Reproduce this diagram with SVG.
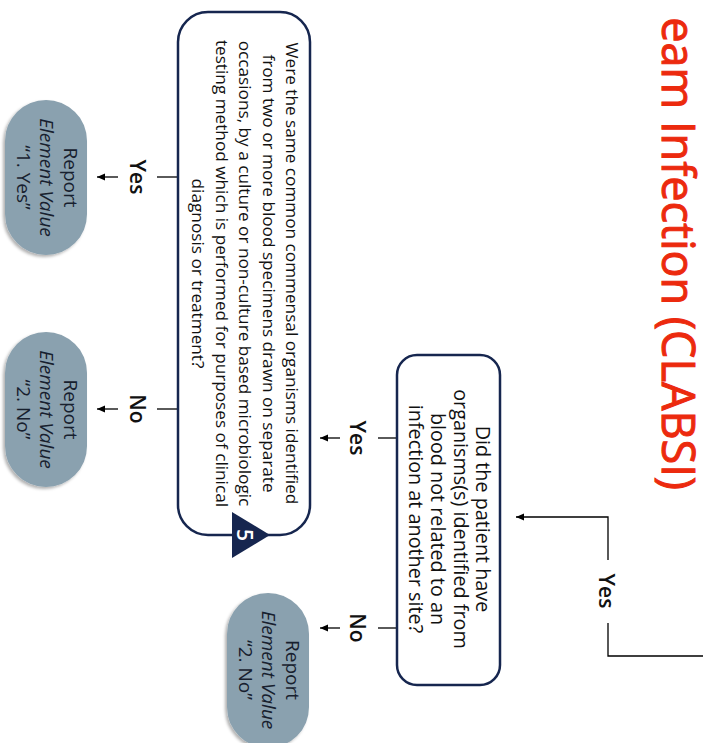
<svg xmlns="http://www.w3.org/2000/svg" width="707" height="743" viewBox="0 0 707 743">
<defs>
<style>
.box{fill:#ffffff;stroke:#16264f;stroke-width:2.5}
.pill{fill:#8aa1af}
.t{font-family:"Open Sans","Liberation Sans",sans-serif;text-anchor:middle;fill:#111111}
.b1{font-size:17.2px}
.b2{font-size:19.8px}
.pt{font-size:19px;fill:#17202e}
.lbl{font-size:21px;font-weight:600}
.ln{fill:none;stroke:#000000;stroke-width:1.3}
.title{font-family:"Open Sans","Liberation Sans",sans-serif;font-size:45px;fill:#ec2a0e;stroke:#ec2a0e;stroke-width:1;text-anchor:end}
</style>
<marker id="ah" markerUnits="userSpaceOnUse" markerWidth="9" markerHeight="8" refX="8" refY="4" orient="auto">
<path d="M0,0.5 L8,4 L0,7.5 z" fill="#000000"/>
</marker>
<filter id="sh" x="-10%" y="-10%" width="125%" height="130%">
<feDropShadow dx="2" dy="2" stdDeviation="1.5" flood-color="#000000" flood-opacity="0.3"/>
</filter>
</defs>
<rect width="707" height="743" fill="#ffffff"/>
<g transform="translate(707,0) rotate(90)">
<g id="title">
<text class="title" x="490" y="45">eam Infection (CLABSI)</text>
</g>
<g id="connectors">
<polyline class="ln" points="656,4 656,99 623,99"/>
<polyline class="ln" points="560,99 517,99 517,191" marker-end="url(#ah)"/>
<line class="ln" x1="438" y1="310" x2="438" y2="329"/>
<line class="ln" x1="438" y1="367" x2="438" y2="387" marker-end="url(#ah)"/>
<line class="ln" x1="628" y1="310" x2="628" y2="329"/>
<line class="ln" x1="628" y1="367" x2="628" y2="387" marker-end="url(#ah)"/>
<line class="ln" x1="177" y1="529" x2="177" y2="550"/>
<line class="ln" x1="177" y1="589" x2="177" y2="610" marker-end="url(#ah)"/>
<line class="ln" x1="409" y1="529" x2="409" y2="550"/>
<line class="ln" x1="409" y1="589" x2="409" y2="610" marker-end="url(#ah)"/>
<text class="t lbl" x="591" y="108">Yes</text>
<text class="t lbl" x="438" y="357">Yes</text>
<text class="t lbl" x="628" y="357">No</text>
<text class="t lbl" x="177" y="577">Yes</text>
<text class="t lbl" x="409" y="577">No</text>
</g>
<g id="q1">
<rect class="box" x="12" y="397" width="523" height="132" rx="30"/>
<text class="t b1" x="273.5" y="421">Were the same common commensal organisms identified</text>
<text class="t b1" x="273.5" y="444.5">from two or more blood specimens drawn on separate</text>
<text class="t b1" x="273.5" y="468">occasions, by a culture or non-culture based microbiologic</text>
<text class="t b1" x="273.5" y="491.5">testing method which is performed for purposes of clinical</text>
<text class="t b1" x="273.5" y="515">diagnosis or treatment?</text>
<path d="M512,475 L558,475 L535,437 z" fill="#16264f"/>
<text class="t" x="535" y="470" font-size="21" font-weight="600" style="fill:#ffffff">5</text>
</g>
<g id="q2">
<rect class="box" x="355" y="207" width="330" height="103" rx="20"/>
<text class="t b2" x="519" y="231">Did the patient have</text>
<text class="t b2" x="519" y="253.5">organisms(s) identified from</text>
<text class="t b2" x="519" y="276">blood not related to an</text>
<text class="t b2" x="519" y="298.5">infection at another site?</text>
</g>
<g id="r1">
<rect class="pill" x="100" y="620" width="155" height="82" rx="41" filter="url(#sh)"/>
<text class="t pt" x="177.5" y="643">Report</text>
<text class="t pt" x="177.5" y="667" font-style="italic">Element Value</text>
<text class="t pt" x="177.5" y="690">&#8220;1. Yes&#8221;</text>
</g>
<g id="r2">
<rect class="pill" x="332" y="620" width="155" height="82" rx="41" filter="url(#sh)"/>
<text class="t pt" x="409.5" y="643">Report</text>
<text class="t pt" x="409.5" y="667" font-style="italic">Element Value</text>
<text class="t pt" x="409.5" y="690">&#8220;2. No&#8221;</text>
</g>
<g id="r3">
<rect class="pill" x="593" y="398" width="155" height="82" rx="41" filter="url(#sh)"/>
<text class="t pt" x="670" y="421">Report</text>
<text class="t pt" x="670" y="445" font-style="italic">Element Value</text>
<text class="t pt" x="670" y="468">&#8220;2. No&#8221;</text>
</g>
</g>
</svg>
